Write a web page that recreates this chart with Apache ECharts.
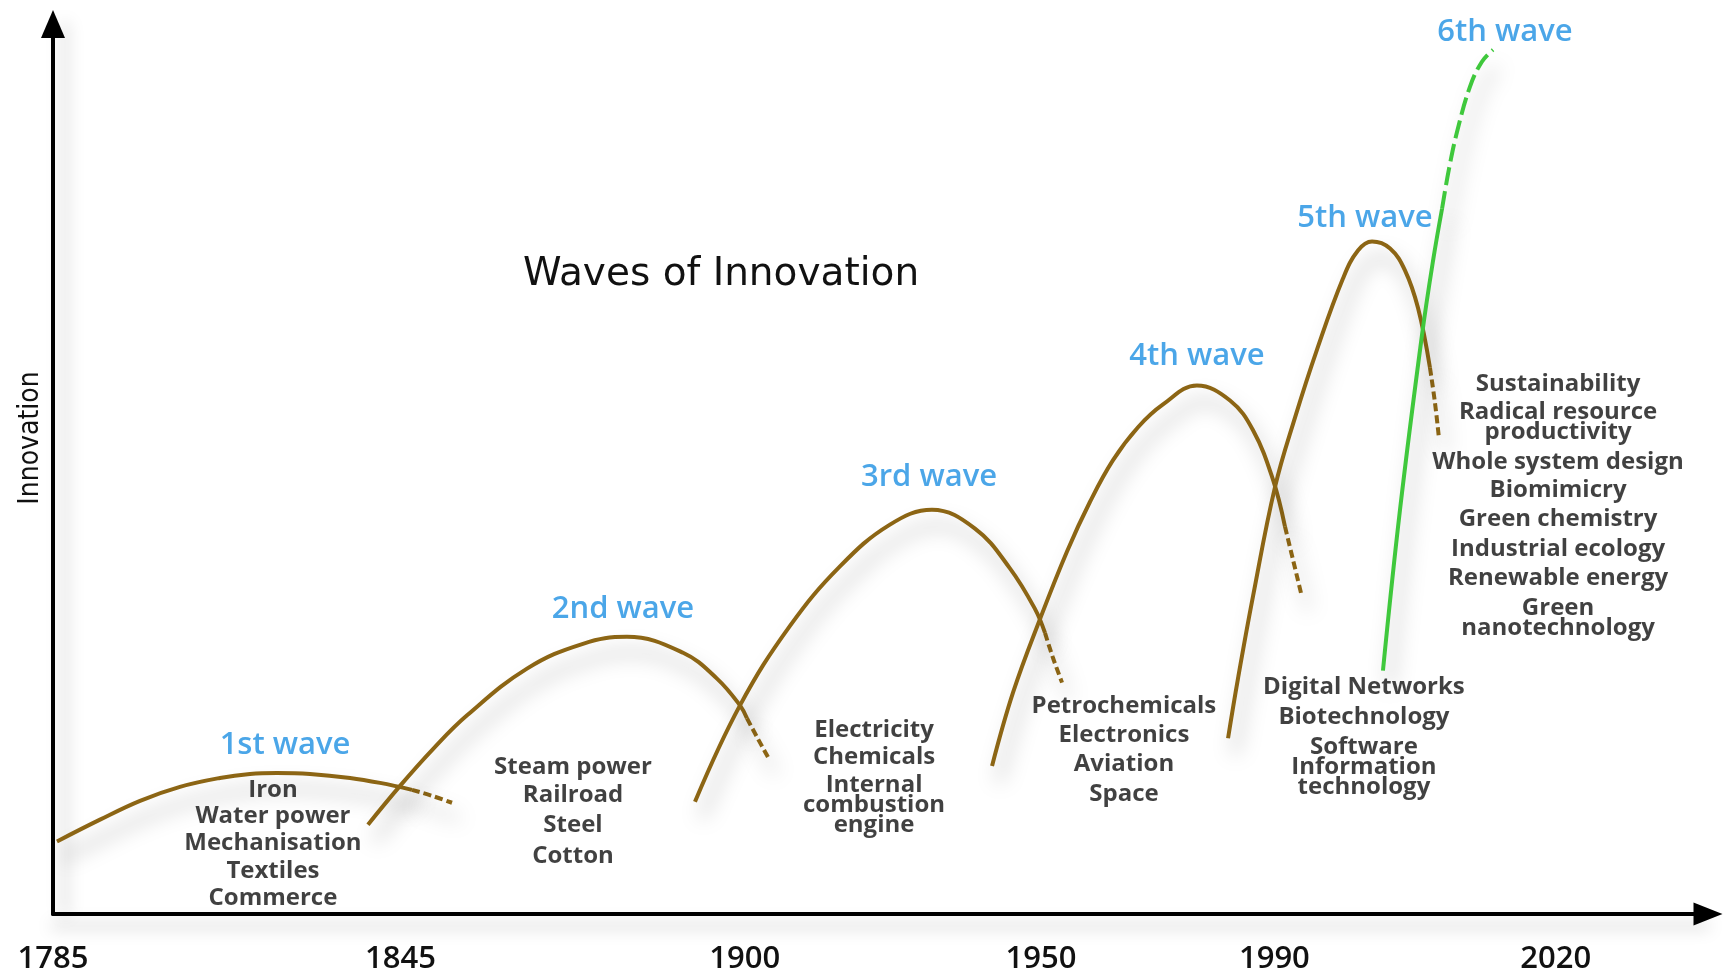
<!DOCTYPE html>
<html>
<head>
<meta charset="utf-8">
<title>Waves of Innovation</title>
<script src="https://cdn.jsdelivr.net/npm/echarts@6/dist/echarts.min.js"></script>
<style>
  html, body { margin: 0; padding: 0; background: #fff; }
  #main { width: 1723px; height: 975px; }
</style>
</head>
<body>
<div id="main"></div>
<script>
// the time axis of the original is schematic: years are not evenly spaced,
// so x is a timeline position 0-100 and the year labels sit at tickPos
const tickYears = ['1785', '1845', '1900', '1950', '1990', '2020'];
const tickPos = [0, 21, 41.8, 59.7, 73.8, 90.8];

// waves as [timeline, innovation], tails are the dashed ends
const wave1 = [[0.24, 8.15], [2.84, 10.6], [5.26, 12.72], [7.67, 14.29], [10.09, 15.29], [11.9, 15.74],
  [13.53, 15.85], [15.53, 15.74], [17.95, 15.29], [19.76, 14.73], [21.69, 13.95]];
const wave1Tail = [[21.69, 13.95], [22.9, 13.28], [24.11, 12.5]];

const wave2 = [[19.03, 10.04], [20.97, 14.4], [22.96, 18.53], [25.02, 22.32], [28.64, 27.57], [32.02, 30.36],
  [34.68, 31.14], [38.07, 29.35], [40.12, 26.45], [41.51, 23.44], [41.93, 21.99]];
const wave2Tail = [[41.93, 21.99], [42.54, 19.87], [43.2, 17.63]];

const wave3 = [[38.79, 12.61], [41.51, 23.44], [44.53, 32.37], [47.55, 39.06], [50.57, 43.75],
  [53.11, 45.42], [55.71, 43.3], [57.82, 38.84], [59.34, 34.26], [59.94, 31.58]];
const wave3Tail = [[59.94, 31.58], [60.42, 28.79], [60.97, 26.0]];

const wave4 = [[56.74, 16.63], [58.01, 24.89], [59.64, 33.15], [61.27, 40.74], [62.66, 46.32], [64.05, 51.0],
  [65.56, 54.69], [67.07, 57.25], [69.12, 59.38], [71.12, 57.7], [72.51, 54.35], [73.72, 48.77], [74.44, 43.53]];
const wave4Tail = [[74.44, 43.53], [74.92, 39.84], [75.41, 36.05]];

const wave5 = [[71.0, 19.75], [71.6, 26.45], [72.51, 35.71], [73.84, 47.99], [75.05, 55.8], [76.37, 63.39],
  [77.95, 71.43], [78.85, 74.55], [79.7, 75.56], [80.79, 74.78], [81.69, 72.32], [82.48, 68.08], [83.2, 61.38]];
const wave5Tail = [[83.2, 61.38], [83.5, 57.48], [83.75, 53.35]];

const wave6 = [[80.36, 27.34], [81.39, 45.42], [82.72, 65.07], [83.38, 73.33], [83.93, 79.24]];
const wave6Tail = [[83.93, 79.24], [84.35, 83.71], [84.83, 87.83], [85.62, 92.97], [86.34, 95.76], [87.01, 97.1]];

// wave names [timeline, innovation, text]
const waveNames = [
  [14.02, 18.97, '1st wave'], [34.44, 34.26, '2nd wave'], [52.93, 49.11, '3rd wave'],
  [69.12, 62.72, '4th wave'], [79.27, 78.13, '5th wave'], [87.73, 99.11, '6th wave']
];

// technologies of each wave [timeline, innovation, text]
const tech1 = [[13.29, 13.95, 'Iron'], [13.29, 10.94, 'Water power'], [13.29, 7.92, 'Mechanisation'],
  [13.29, 4.8, 'Textiles'], [13.29, 1.79, 'Commerce']];
const tech2 = [[31.42, 16.52, 'Steam power'], [31.42, 13.39, 'Railroad'], [31.42, 9.93, 'Steel'],
  [31.42, 6.47, 'Cotton']];
const tech3 = [[49.61, 20.65, 'Electricity'], [49.61, 17.63, 'Chemicals'],
  [49.61, 12.28, 'Internal\ncombustion\nengine']];
const tech4 = [[64.71, 23.33, 'Petrochemicals'], [64.71, 20.09, 'Electronics'], [64.71, 16.85, 'Aviation'],
  [64.71, 13.5, 'Space']];
const tech5 = [[79.21, 25.45, 'Digital Networks'], [79.21, 22.1, 'Biotechnology'],
  [79.21, 16.52, 'Software\nInformation\ntechnology']];
const tech6 = [[90.94, 59.49, 'Sustainability'], [90.94, 55.25, 'Radical resource\nproductivity'],
  [90.94, 50.78, 'Whole system design'], [90.94, 47.66, 'Biomimicry'], [90.94, 44.31, 'Green chemistry'],
  [90.94, 40.96, 'Industrial ecology'], [90.94, 37.72, 'Renewable energy'],
  [90.94, 33.26, 'Green\nnanotechnology']];

const brown = '#8c6514';
const green = '#3fc83c';
const blue = '#1e90e2';
const bodyFont = "'Open Sans', 'Noto Sans', sans-serif";

const waveLine = (data, color, dash) => ({
  type: 'line',
  data: data,
  smooth: 0.4,
  symbol: 'none',
  silent: true,
  lineStyle: {
    color: color,
    width: 4,
    type: dash || 'solid',
    shadowColor: 'rgba(0,0,0,0.34)',
    shadowBlur: 20,
    shadowOffsetX: 7,
    shadowOffsetY: 16
  },
  z: 3
});

const textSeries = (data, style) => ({
  type: 'scatter',
  data: data,
  symbolSize: 1,
  silent: true,
  itemStyle: { color: 'transparent' },
  label: Object.assign({
    show: true,
    position: 'inside',
    formatter: (p) => p.data[2],
    fontFamily: bodyFont,
    fontWeight: 'bold',
    fontSize: 24,
    color: '#111',
    lineHeight: 20
  }, style),
  z: 5
});

const dom = echarts.init(document.getElementById('main'));

const axisShadow = { color: '#000', width: 4, shadowColor: 'rgba(0,0,0,0.25)', shadowBlur: 16 };

const option = {
  backgroundColor: '#fff',
  animation: false,
  title: {
    text: 'Waves of Innovation',
    left: 716,
    top: 250,
    textAlign: 'center',
    textStyle: { fontFamily: "'DejaVu Sans', sans-serif", fontWeight: 'normal', fontSize: 39, color: '#111' }
  },
  grid: { left: 53, right: 15, top: 24, bottom: 55 },
  xAxis: {
    type: 'value',
    min: 0,
    max: 100,
    axisLine: {
      onZero: false,
      symbol: ['none', 'triangle'],
      symbolSize: [23, 29],
      lineStyle: Object.assign({}, axisShadow, { shadowOffsetY: 12 })
    },
    axisTick: { show: false },
    splitLine: { show: false },
    axisLabel: {
      customValues: tickPos,
      formatter: (v) => tickYears[tickPos.indexOf(v)],
      margin: 30,
      fontFamily: bodyFont,
      fontWeight: 600,
      fontSize: 31,
      color: '#111'
    }
  },
  yAxis: {
    type: 'value',
    min: 0,
    max: 100,
    name: 'Innovation',
    nameLocation: 'middle',
    nameRotate: 90,
    nameGap: 8,
    nameTextStyle: {
      fontFamily: "'Liberation Sans Narrow', 'DejaVu Sans Condensed', sans-serif",
      fontSize: 28,
      color: '#111',
      padding: [0, 0, 0, 62]
    },
    axisLine: {
      symbol: ['none', 'triangle'],
      symbolSize: [24, 28],
      lineStyle: Object.assign({}, axisShadow, { shadowOffsetX: 12 })
    },
    axisTick: { show: false },
    splitLine: { show: false },
    axisLabel: { show: false }
  },
  series: [
    waveLine(wave1, brown), waveLine(wave1Tail, brown, [8, 4]),
    waveLine(wave2, brown), waveLine(wave2Tail, brown, [8, 4]),
    waveLine(wave3, brown), waveLine(wave3Tail, brown, [8, 4]),
    waveLine(wave4, brown), waveLine(wave4Tail, brown, [8, 4]),
    waveLine(wave5, brown), waveLine(wave5Tail, brown, [8, 4]),
    waveLine(wave6, green), waveLine(wave6Tail, green, [18, 6]),
    textSeries(waveNames, { color: blue, fontWeight: 600, fontSize: 31, lineHeight: 32 }),
    textSeries(tech1), textSeries(tech2), textSeries(tech3),
    textSeries(tech4), textSeries(tech5), textSeries(tech6)
  ]
};

dom.setOption(option);
</script>
</body>
</html>
